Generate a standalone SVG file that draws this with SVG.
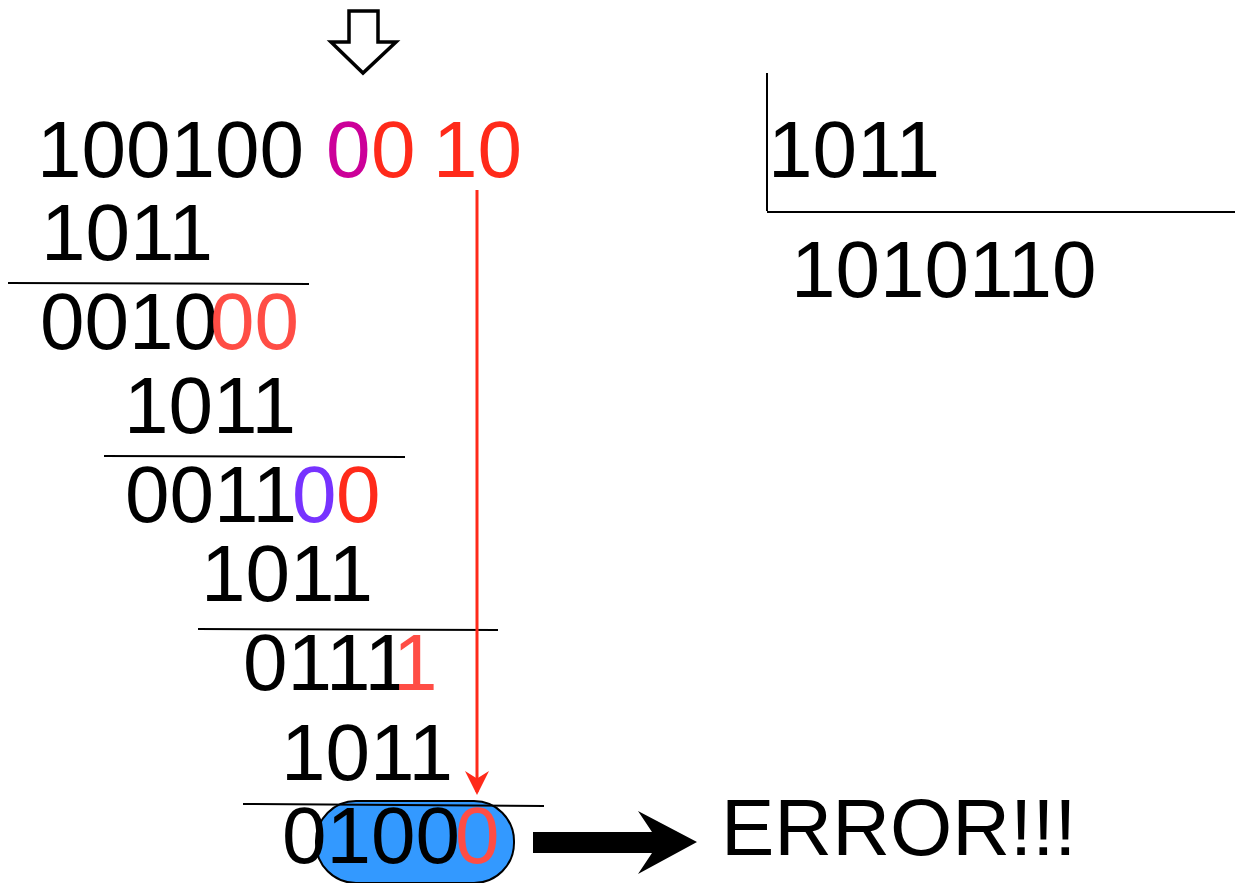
<svg xmlns="http://www.w3.org/2000/svg" width="1235" height="883" viewBox="0 0 1235 883">
<style>
text{font-family:"Liberation Sans",Arial,sans-serif;font-size:80px;fill:#000}
.red{fill:#ff2a1a}
.lred{fill:#ff4d45}
.mag{fill:#cc0099}
.vio{fill:#7733ff}
.rule{stroke:#000;stroke-width:2;fill:none}
</style>
<defs>
<marker id="redhead" markerWidth="8" markerHeight="8" refX="7" refY="4" orient="auto" markerUnits="strokeWidth">
<path d="M0,0 L8,4 L0,8 L2.5,4 Z" fill="#ff2a1a"/>
</marker>
</defs>
<g id="pointer">
<path d="M349,11 L378,11 L378,42 L396,42 L363,73 L331,42 L349,42 Z" fill="#fff" stroke="#000" stroke-width="3.5" stroke-linejoin="miter"/>
</g>
<g id="dividend">
<text x="37" y="177">100100<tspan x="326" class="mag">0</tspan><tspan x="371" class="red">0</tspan><tspan x="433" class="red">10</tspan></text>
</g>
<g id="step1">
<text x="41" y="260">1011</text>
<line x1="8" y1="283" x2="309" y2="284" class="rule"/>
<text x="40" y="349">0010<tspan x="210" class="lred">00</tspan></text>
</g>
<g id="step2">
<text x="124" y="433">1011</text>
<line x1="104" y1="456" x2="405" y2="457" class="rule"/>
<text x="125" y="522">0011<tspan x="292" class="vio">0</tspan><tspan x="336" class="red">0</tspan></text>
</g>
<g id="step3">
<text x="201" y="601">1011</text>
<line x1="198" y1="629" x2="498" y2="630" class="rule"/>
<text x="243" y="690">0111<tspan x="393" class="lred">1</tspan></text>
</g>
<g id="step4">
<text x="281" y="780">1011</text>
<rect x="316" y="801" width="198" height="82" rx="40" ry="40" fill="#3399ff" stroke="#000" stroke-width="2"/>
<line x1="243" y1="804" x2="544" y2="806" class="rule"/>
<text x="282" y="863">0100<tspan x="455" class="lred">0</tspan></text>
</g>
<g id="divisor">
<line x1="767" y1="73" x2="767" y2="211" class="rule"/>
<line x1="767" y1="212" x2="1235" y2="212" class="rule"/>
<text x="768" y="177">1011</text>
<text x="791" y="297">1010110</text>
</g>
<g id="error">
<text x="721" y="855">ERROR!!!</text>
</g>
<g id="connectors">
<line x1="477" y1="190" x2="477" y2="792" stroke="#ff2a1a" stroke-width="3" marker-end="url(#redhead)"/>
<path d="M533,832 L652,832 L638,811 L697,842 L638,874 L652,853 L533,853 Z" fill="#000"/>
</g>
</svg>
